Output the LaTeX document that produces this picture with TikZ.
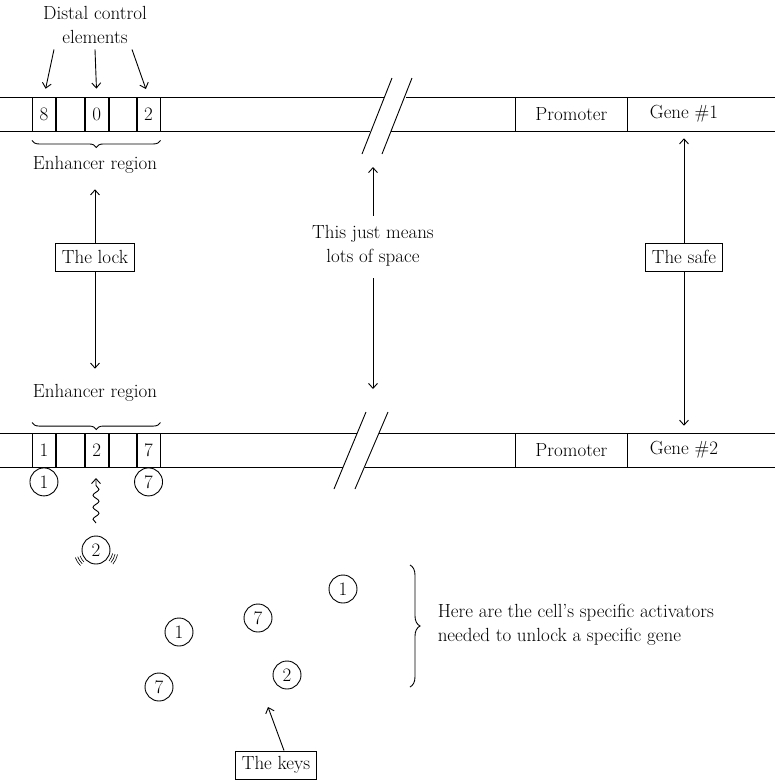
\documentclass[tikz,border=0pt]{standalone}
\usepackage{tikz}
\usetikzlibrary{positioning,arrows.meta,decorations.pathmorphing,decorations.pathreplacing}

\begin{document}
\begin{tikzpicture}[x=1pt, y=-1pt, line width=0.9pt, font=\fontsize{19}{24}\selectfont,
    >={Straight Barb[length=5pt,width=9pt]},
    cell/.style={draw, minimum height=34pt, inner sep=0pt, anchor=west},
    tag/.style={draw, fill=white, inner xsep=6.5pt, minimum height=28pt},
    key/.style={draw, circle, minimum size=28pt, inner sep=0pt}]
    \useasboundingbox (0,0) rectangle (775,780);

    % upper strand with its break
    \draw (0,97) -- (384,97) (406,97) -- (775,97);
    \draw (0,131) -- (370,131) (391,131) -- (775,131);
    \draw (362,154) -- (392,78);
    \draw (382,154) -- (412,78);

    \node[cell, minimum width=23pt] (t1) at (32,114) {8};
    \node[cell, minimum width=28pt] (t2) at (t1.east) {};
    \node[cell, minimum width=23pt] (t3) at (t2.east) {0};
    \node[cell, minimum width=27pt] (t4) at (t3.east) {};
    \node[cell, minimum width=23pt] (t5) at (t4.east) {2};
    \node[cell, minimum width=112pt] (prom1) at (515,114) {Promoter};
    \node (gene1) at (684,114) {Gene \#1};

    \node[align=center] (distal) at (95,25) {Distal control\\elements};
    \draw[->, shorten >=8pt] ([xshift=-41pt,yshift=-2pt]distal.south) -- (t1.north);
    \draw[->, shorten >=8pt] ([yshift=-2pt]distal.south) -- (t3.north);
    \draw[->, shorten >=8pt] ([xshift=37pt,yshift=-2pt]distal.south) -- (t5.north);

    \draw[decorate, decoration={brace, mirror, amplitude=7pt}] ([yshift=-9pt]t1.south west) -- ([yshift=-9pt]t5.south east);
    \node (enh1) at (95,165) {Enhancer region};

    % lower strand with its break
    \draw (0,433) -- (357,433) (379,433) -- (775,433);
    \draw (0,467) -- (343,467) (365,467) -- (775,467);
    \draw (334,489) -- (366,412);
    \draw (355,489) -- (388,412);

    \node[cell, minimum width=23pt] (b1) at (32,450) {1};
    \node[cell, minimum width=28pt] (b2) at (b1.east) {};
    \node[cell, minimum width=23pt] (b3) at (b2.east) {2};
    \node[cell, minimum width=27pt] (b4) at (b3.east) {};
    \node[cell, minimum width=23pt] (b5) at (b4.east) {7};
    \node[cell, minimum width=112pt] (prom2) at (515,450) {Promoter};
    \node (gene2) at (684,450) {Gene \#2};

    \node (enh2) at (95,393) {Enhancer region};
    \draw[decorate, decoration={brace, mirror, amplitude=7pt}] ([yshift=10pt]b1.north west) -- ([yshift=10pt]b5.north east);

    % the lock, the gap, the safe
    \node[tag] (lock) at (95,257) {The lock};
    \draw[->, shorten >=12pt] (lock) -- (enh1);
    \draw[->, shorten >=12pt] (lock) -- (enh2);

    \node[align=center] (space) at (373,246) {This just means\\lots of space};
    \coordinate (gapup) at (373,167);
    \coordinate (gapdown) at (373,389);
    \draw[->, shorten <=6pt] (space) -- (gapup);
    \draw[->, shorten <=8pt] (space) -- (gapdown);

    \node[tag] (safe) at (684,257) {The safe};
    \draw[->, shorten >=12pt] (safe) -- (gene1);
    \draw[->, shorten >=12pt] (safe) -- (gene2);

    % activators bound and arriving
    \node[key, below=0pt of b1] (on1) {1};
    \node[key, below=0pt of b5] (on7) {7};
    \node[key] (on2) at (96,550) {2};
    \coordinate (wigstart) at (96,523);
    \coordinate (wigend) at (96,478);
    \draw[->, decorate, decoration={snake, amplitude=3pt, segment length=12pt, post length=5pt}] (wigstart) -- (wigend);
    \foreach \r in {17,19.5,22} {
        \draw[line width=0.6pt] (on2) ++(160:\r) arc[start angle=160, end angle=135, radius=\r];
        \draw[line width=0.6pt] (on2) ++(40:\r) arc[start angle=40, end angle=12, radius=\r];
    }

    % the keys
    \node[key] (ka) at (343,589) {1};
    \node[key] (kb) at (258,618) {7};
    \node[key] (kc) at (179,632) {1};
    \node[key] (kd) at (159,687) {7};
    \node[key] (ke) at (287,675) {2};
    \node[tag] (keys) at (276,765) {The keys};
    \coordinate (keytip) at (268,707);
    \draw[->] ([xshift=8pt]keys.north) -- (keytip);

    \draw[decorate, decoration={brace, amplitude=10pt}] (410,565) -- (410,687);
    \node[align=left, anchor=west] (activ) at (434,625) {Here are the cell's specific activators\\needed to unlock a specific gene};
\end{tikzpicture}
\end{document}
